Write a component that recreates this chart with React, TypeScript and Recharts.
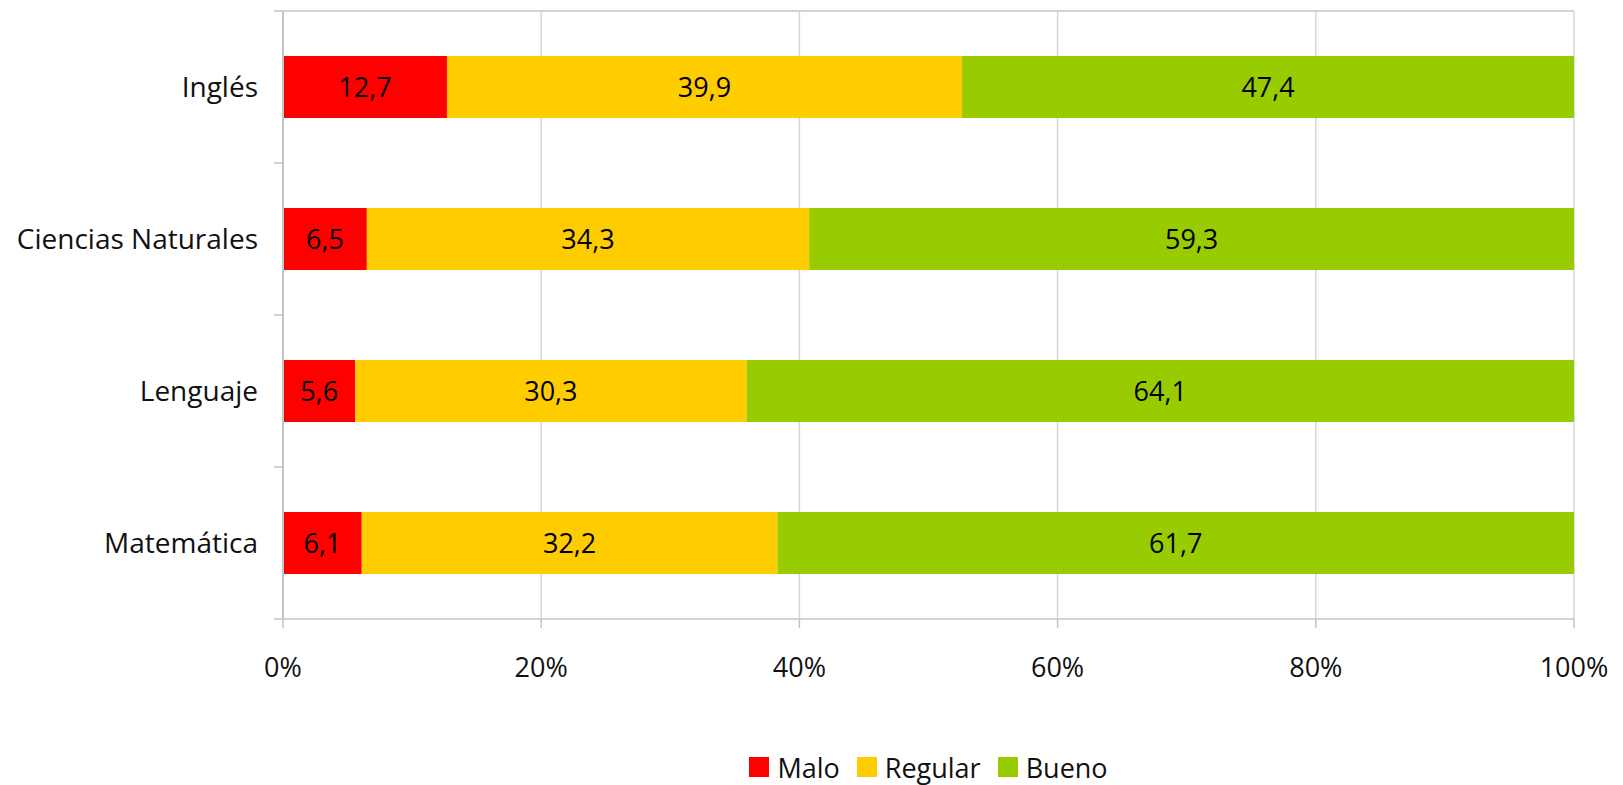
import { BarChart, Bar, XAxis, YAxis, CartesianGrid, Legend, LabelList } from "recharts";

// 100% stacked bars: share of students per rating, by subject
const subjects = ["Inglés", "Ciencias Naturales", "Lenguaje", "Matemática"];
const malo = [12.7, 6.5, 5.6, 6.1];
const regular = [39.9, 34.3, 30.3, 32.2];
const bueno = [47.4, 59.3, 64.1, 61.7];

const seriesKeys = ["malo", "regular", "bueno"];
const seriesNames = ["Malo", "Regular", "Bueno"];
const seriesColors = ["#FF0000", "#FFCC00", "#99CC00"];

const xTicks = [0, 0.2, 0.4, 0.6, 0.8, 1];

const data = subjects.map((s, i) => ({
  subject: s,
  malo: malo[i],
  regular: regular[i],
  bueno: bueno[i],
}));

const FONT = "'Open Sans', 'Noto Sans', sans-serif";
const AXIS_GRAY = "#c4c4c4";
const TEXT = "#111111";
const LABEL_GAP = 25;
const TICK_LEN = 9;

function fmtComma(v: unknown): string {
  return String(v).replace(".", ",");
}

// Excel puts the category tick marks between the bars, not on them.
// payload.offset is half the band, so the marks go on the band edges.
function CategoryTick(props: any) {
  const { x, y, payload, index, visibleTicksCount } = props;
  const half = payload?.offset ?? 0;
  const axisX = x + LABEL_GAP;
  return (
    <g>
      <line x1={axisX - TICK_LEN} x2={axisX} y1={y - half} y2={y - half} stroke={AXIS_GRAY} strokeWidth={1.5} />
      {index === visibleTicksCount - 1 && (
        <line x1={axisX - TICK_LEN} x2={axisX} y1={y + half} y2={y + half} stroke={AXIS_GRAY} strokeWidth={1.5} />
      )}
      <text x={x} y={y} dy="0.355em" textAnchor="end" fill={TEXT} fontSize={28} fontFamily={FONT}>
        {payload.value}
      </text>
    </g>
  );
}

// legend keeps the series order (recharts would sort it by name)
function LegendRow() {
  return (
    <div
      style={{
        display: "flex",
        justifyContent: "center",
        alignItems: "center",
        height: 30,
        fontFamily: FONT,
        fontSize: 27,
        color: TEXT,
      }}
    >
      {seriesNames.map((name, i) => (
        <span
          key={name}
          style={{ display: "flex", alignItems: "center", marginRight: i < seriesNames.length - 1 ? 17 : 0 }}
        >
          <span style={{ width: 20, height: 20, background: seriesColors[i], marginRight: 8 }} />
          {name}
        </span>
      ))}
    </div>
  );
}

export default function App() {
  return (
    <div style={{ position: "absolute", left: 0, top: 0, background: "#fff" }}>
      <BarChart
        width={1623}
        height={785}
        data={data}
        layout="vertical"
        stackOffset="expand"
        barSize={62}
        margin={{ top: 10, right: 49, left: 0, bottom: 3 }}
        style={{ fontFamily: FONT }}
      >
        <CartesianGrid horizontal={false} stroke="#d6d6d6" strokeWidth={1.5} />
        <XAxis
          type="number"
          domain={[0, 1]}
          ticks={xTicks}
          tickFormatter={(v) => `${Math.round(v * 100)}%`}
          stroke={AXIS_GRAY}
          strokeWidth={1.5}
          tickSize={TICK_LEN}
          tickMargin={30}
          height={133}
          tick={{ fill: TEXT, fontSize: 27, fontFamily: FONT }}
        />
        <XAxis
          xAxisId="top"
          orientation="top"
          type="number"
          domain={[0, 1]}
          allowDataOverflow
          height={1}
          tick={false}
          tickLine={false}
          stroke={AXIS_GRAY}
          strokeWidth={1.5}
        />
        <YAxis
          type="category"
          dataKey="subject"
          width={283}
          tickLine={false}
          tickSize={0}
          tickMargin={LABEL_GAP}
          interval={0}
          stroke={AXIS_GRAY}
          strokeWidth={2}
          tick={CategoryTick}
        />
        <Legend
          verticalAlign="bottom"
          content={LegendRow}
          wrapperStyle={{ left: 283, width: 1291 }}
        />
        {seriesKeys.map((k, i) => (
          <Bar
            key={k}
            dataKey={k}
            name={seriesNames[i]}
            stackId="a"
            fill={seriesColors[i]}
            isAnimationActive={false}
          >
            <LabelList
              dataKey={k}
              position="center"
              formatter={fmtComma}
              fill="#000"
              fontSize={27}
              fontFamily={FONT}
            />
          </Bar>
        ))}
      </BarChart>
    </div>
  );
}
